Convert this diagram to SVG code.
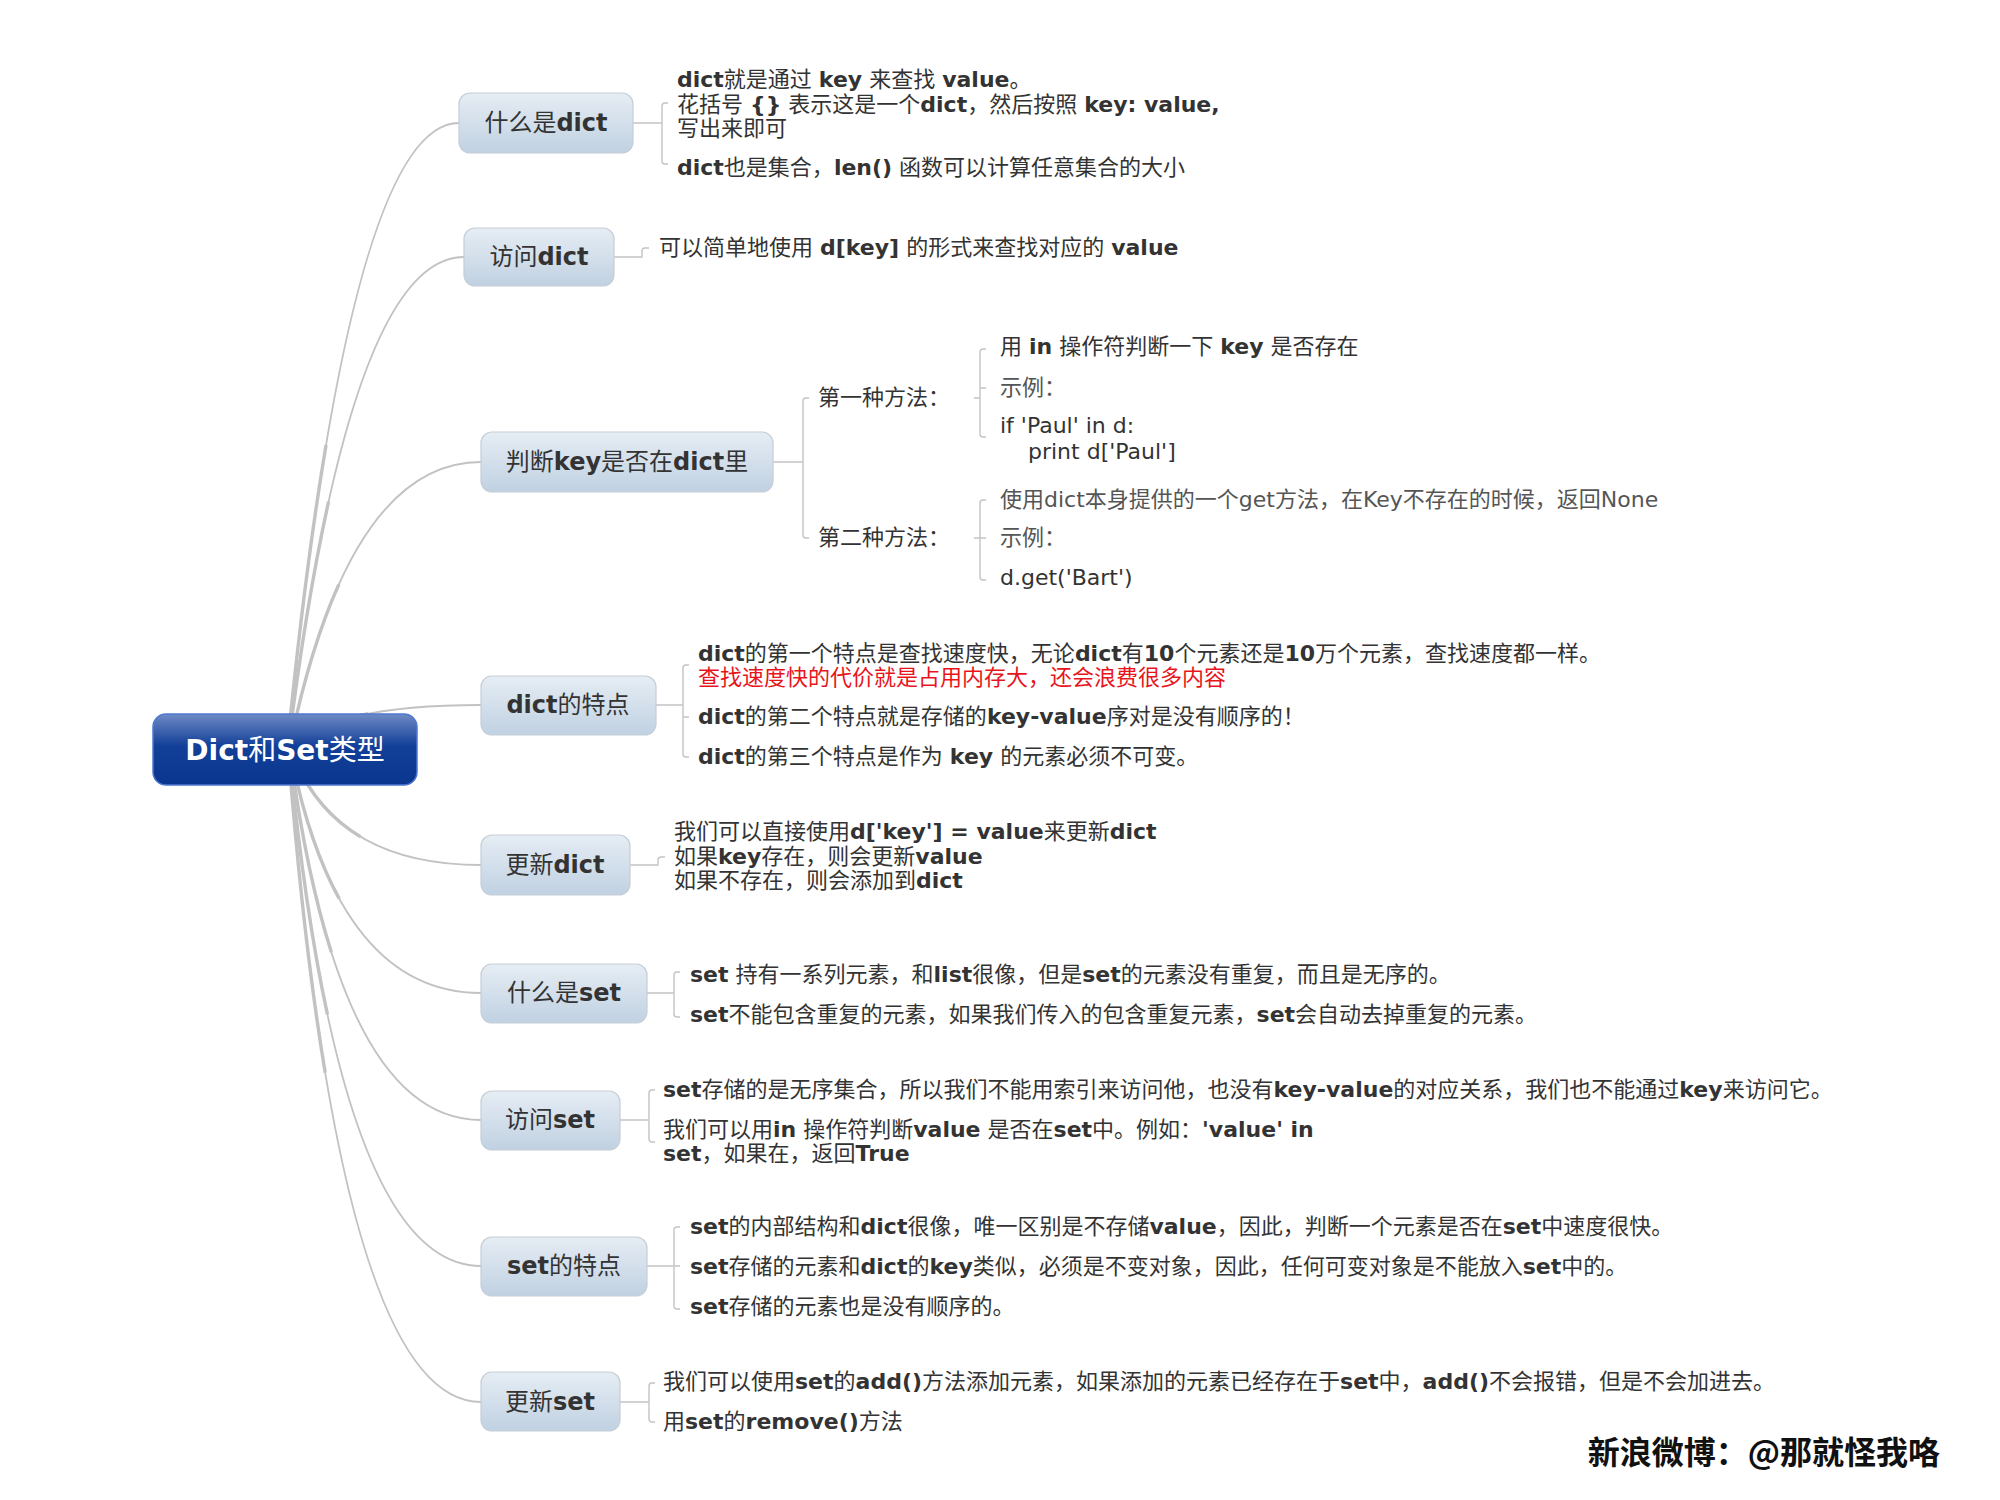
<svg xmlns="http://www.w3.org/2000/svg" xmlns:xlink="http://www.w3.org/1999/xlink" width="2000" height="1500" viewBox="0 0 2000 1500">
<defs>
<linearGradient id="ng" x1="0" y1="0" x2="0" y2="1">
<stop offset="0" stop-color="#e6edf4"/>
<stop offset="1" stop-color="#c0d1e2"/>
</linearGradient>
<linearGradient id="rg" x1="0" y1="0" x2="0" y2="1">
<stop offset="0" stop-color="#6f8ac6"/>
<stop offset="0.45" stop-color="#123f98"/>
<stop offset="1" stop-color="#0a3690"/>
</linearGradient>
<path id="c1" pathLength="100" d="M 288 740 Q 350 123 459 123"/>
<path id="c2" pathLength="100" d="M 289 740 Q 350 257 464 257"/>
<path id="c3" pathLength="100" d="M 291 740 Q 350 462 481 462"/>
<path id="c4" pathLength="100" d="M 285 750 Q 330 705 481 705"/>
<path id="c5" pathLength="100" d="M 295 760 Q 340 865 481 865"/>
<path id="c6" pathLength="100" d="M 292 760 Q 340 993 481 993"/>
<path id="c7" pathLength="100" d="M 291 760 Q 340 1120 481 1120"/>
<path id="c8" pathLength="100" d="M 290 760 Q 340 1266 481 1266"/>
<path id="c9" pathLength="100" d="M 289 760 Q 340 1402 481 1402"/>
</defs>
<style>
.cv{fill:none;stroke:#c2c2c2;stroke-width:1.9}
.cvb{fill:none;stroke:#c2c2c2;stroke-width:3.4;stroke-dasharray:45 100}
.br{fill:none;stroke:#c4c4c4;stroke-width:1.4}
.node{fill:url(#ng);stroke:#c6ced8;stroke-width:1.2}
.nt{font-family:"DejaVu Sans","Noto Sans CJK SC",sans-serif;font-size:24px;fill:#333;text-anchor:middle}
.t{font-family:"DejaVu Sans","Noto Sans CJK SC",sans-serif;font-size:22px;fill:#333}
.b{font-weight:bold}
.g{fill:#555}
.red{fill:#e8141b}
</style>
<rect width="2000" height="1500" fill="#ffffff"/>

<g id="connectors">
<use xlink:href="#c1" class="cv"/><use xlink:href="#c1" class="cvb"/>
<use xlink:href="#c2" class="cv"/><use xlink:href="#c2" class="cvb"/>
<use xlink:href="#c3" class="cv"/><use xlink:href="#c3" class="cvb"/>
<use xlink:href="#c4" class="cv"/><use xlink:href="#c4" class="cvb"/>
<use xlink:href="#c5" class="cv"/><use xlink:href="#c5" class="cvb"/>
<use xlink:href="#c6" class="cv"/><use xlink:href="#c6" class="cvb"/>
<use xlink:href="#c7" class="cv"/><use xlink:href="#c7" class="cvb"/>
<use xlink:href="#c8" class="cv"/><use xlink:href="#c8" class="cvb"/>
<use xlink:href="#c9" class="cv"/><use xlink:href="#c9" class="cvb"/>
<path class="br" d="M 633 123 H 662 M 668 103 H 665 Q 662 103 662 106 V 161 Q 662 164 665 164 H 668"/>
<path class="br" d="M 614 257 H 642 V 251 Q 642 248 645 248 H 649"/>
<path class="br" d="M 773 462 H 803 M 809 398 H 806 Q 803 398 803 401 V 535 Q 803 538 806 538 H 809"/>
<path class="br" d="M 974 398 H 980 M 986 349 H 983 Q 980 349 980 352 V 434 Q 980 437 983 437 H 986 M 980 388 H 986"/>
<path class="br" d="M 974 538 H 986 M 986 500 H 983 Q 980 500 980 503 V 577 Q 980 580 983 580 H 986"/>
<path class="br" d="M 656 705 H 683 M 689 665 H 686 Q 683 665 683 668 V 754 Q 683 757 686 757 H 689 M 683 717 H 689"/>
<path class="br" d="M 630 865 H 658 V 860 Q 658 857 661 857 H 665"/>
<path class="br" d="M 647 993 H 674 M 680 972 H 677 Q 674 972 674 975 V 1014 Q 674 1017 677 1017 H 680"/>
<path class="br" d="M 620 1120 H 649 M 655 1090 H 652 Q 649 1090 649 1093 V 1139 Q 649 1142 652 1142 H 655"/>
<path class="br" d="M 647 1266 H 680 M 680 1227 H 677 Q 674 1227 674 1230 V 1306 Q 674 1309 677 1309 H 680"/>
<path class="br" d="M 620 1402 H 649 M 655 1383 H 652 Q 649 1383 649 1386 V 1419 Q 649 1422 652 1422 H 655"/>
</g>

<g id="root">
<rect x="153" y="714" width="264" height="71" rx="13" fill="url(#rg)" stroke="#4f78d0" stroke-width="1.5"/>
<text x="285" y="760" font-family="'DejaVu Sans','Noto Sans CJK SC',sans-serif" font-size="28" fill="#ffffff" text-anchor="middle"><tspan font-weight="bold">Dict</tspan>和<tspan font-weight="bold">Set</tspan>类型</text>
</g>

<g id="n-what-dict">
<rect class="node" x="459" y="93" width="174" height="60" rx="11"/>
<text class="nt" x="546" y="131">什么是<tspan class="b">dict</tspan></text>
<text class="t" x="677" y="87"><tspan class="b">dict</tspan>就是通过 <tspan class="b">key</tspan> 来查找 <tspan class="b">value</tspan>。</text>
<text class="t" x="677" y="112">花括号 <tspan class="b">{}</tspan> 表示这是一个<tspan class="b">dict</tspan>，然后按照 <tspan class="b">key: value,</tspan></text>
<text class="t" x="677" y="136">写出来即可</text>
<text class="t" x="677" y="175"><tspan class="b">dict</tspan>也是集合，<tspan class="b">len()</tspan> 函数可以计算任意集合的大小</text>
</g>

<g id="n-access-dict">
<rect class="node" x="464" y="228" width="150" height="58" rx="11"/>
<text class="nt" x="539" y="265">访问<tspan class="b">dict</tspan></text>
<text class="t" x="659" y="255">可以简单地使用 <tspan class="b">d[key]</tspan> 的形式来查找对应的 <tspan class="b">value</tspan></text>
</g>

<g id="n-key-in-dict">
<rect class="node" x="481" y="432" width="292" height="60" rx="11"/>
<text class="nt" x="627" y="470">判断<tspan class="b">key</tspan>是否在<tspan class="b">dict</tspan>里</text>
<text class="t" x="818" y="405">第一种方法：</text>
<text class="t" x="818" y="545">第二种方法：</text>
<text class="t" x="1000" y="354">用 <tspan class="b">in</tspan> 操作符判断一下 <tspan class="b">key</tspan> 是否存在</text>
<text class="t g" x="1000" y="395">示例：</text>
<text class="t" x="1000" y="433">if 'Paul' in d:</text>
<text class="t" x="1028" y="459">print d['Paul']</text>
<text class="t g" x="1000" y="507">使用dict本身提供的一个get方法，在Key不存在的时候，返回None</text>
<text class="t g" x="1000" y="545">示例：</text>
<text class="t" x="1000" y="585">d.get('Bart')</text>
</g>

<g id="n-dict-feature">
<rect class="node" x="481" y="676" width="175" height="59" rx="11"/>
<text class="nt" x="568" y="713"><tspan class="b">dict</tspan>的特点</text>
<text class="t" x="698" y="661"><tspan class="b">dict</tspan>的第一个特点是查找速度快，无论<tspan class="b">dict</tspan>有<tspan class="b">10</tspan>个元素还是<tspan class="b">10</tspan>万个元素，查找速度都一样。</text>
<text class="t red" x="698" y="685">查找速度快的代价就是占用内存大，还会浪费很多内容</text>
<text class="t" x="698" y="724"><tspan class="b">dict</tspan>的第二个特点就是存储的<tspan class="b">key-value</tspan>序对是没有顺序的！</text>
<text class="t" x="698" y="764"><tspan class="b">dict</tspan>的第三个特点是作为 <tspan class="b">key</tspan> 的元素必须不可变。</text>
</g>

<g id="n-update-dict">
<rect class="node" x="481" y="835" width="149" height="60" rx="11"/>
<text class="nt" x="555" y="873">更新<tspan class="b">dict</tspan></text>
<text class="t" x="674" y="839">我们可以直接使用<tspan class="b">d['key'] = value</tspan>来更新<tspan class="b">dict</tspan></text>
<text class="t" x="674" y="864">如果<tspan class="b">key</tspan>存在，则会更新<tspan class="b">value</tspan></text>
<text class="t" x="674" y="888">如果不存在，则会添加到<tspan class="b">dict</tspan></text>
</g>

<g id="n-what-set">
<rect class="node" x="481" y="964" width="166" height="59" rx="11"/>
<text class="nt" x="564" y="1001">什么是<tspan class="b">set</tspan></text>
<text class="t" x="690" y="982"><tspan class="b">set</tspan> 持有一系列元素，和<tspan class="b">list</tspan>很像，但是<tspan class="b">set</tspan>的元素没有重复，而且是无序的。</text>
<text class="t" x="690" y="1022"><tspan class="b">set</tspan>不能包含重复的元素，如果我们传入的包含重复元素，<tspan class="b">set</tspan>会自动去掉重复的元素。</text>
</g>

<g id="n-access-set">
<rect class="node" x="481" y="1091" width="139" height="59" rx="11"/>
<text class="nt" x="550" y="1128">访问<tspan class="b">set</tspan></text>
<text class="t" x="663" y="1097"><tspan class="b">set</tspan>存储的是无序集合，所以我们不能用索引来访问他，也没有<tspan class="b">key-value</tspan>的对应关系，我们也不能通过<tspan class="b">key</tspan>来访问它。</text>
<text class="t" x="663" y="1137">我们可以用<tspan class="b">in</tspan> 操作符判断<tspan class="b">value</tspan> 是否在<tspan class="b">set</tspan>中。例如：<tspan class="b">'value' in</tspan></text>
<text class="t" x="663" y="1161"><tspan class="b">set</tspan>，如果在，返回<tspan class="b">True</tspan></text>
</g>

<g id="n-set-feature">
<rect class="node" x="481" y="1237" width="166" height="59" rx="11"/>
<text class="nt" x="564" y="1274"><tspan class="b">set</tspan>的特点</text>
<text class="t" x="690" y="1234"><tspan class="b">set</tspan>的内部结构和<tspan class="b">dict</tspan>很像，唯一区别是不存储<tspan class="b">value</tspan>，因此，判断一个元素是否在<tspan class="b">set</tspan>中速度很快。</text>
<text class="t" x="690" y="1274"><tspan class="b">set</tspan>存储的元素和<tspan class="b">dict</tspan>的<tspan class="b">key</tspan>类似，必须是不变对象，因此，任何可变对象是不能放入<tspan class="b">set</tspan>中的。</text>
<text class="t" x="690" y="1314"><tspan class="b">set</tspan>存储的元素也是没有顺序的。</text>
</g>

<g id="n-update-set">
<rect class="node" x="481" y="1372" width="139" height="59" rx="11"/>
<text class="nt" x="550" y="1410">更新<tspan class="b">set</tspan></text>
<text class="t" x="663" y="1389">我们可以使用<tspan class="b">set</tspan>的<tspan class="b">add()</tspan>方法添加元素，如果添加的元素已经存在于<tspan class="b">set</tspan>中，<tspan class="b">add()</tspan>不会报错，但是不会加进去。</text>
<text class="t" x="663" y="1429">用<tspan class="b">set</tspan>的<tspan class="b">remove()</tspan>方法</text>
</g>

<text x="1940" y="1464" font-family="'Noto Sans CJK SC',sans-serif" font-size="32" font-weight="bold" fill="#111" text-anchor="end">新浪微博：@那就怪我咯</text>
</svg>
